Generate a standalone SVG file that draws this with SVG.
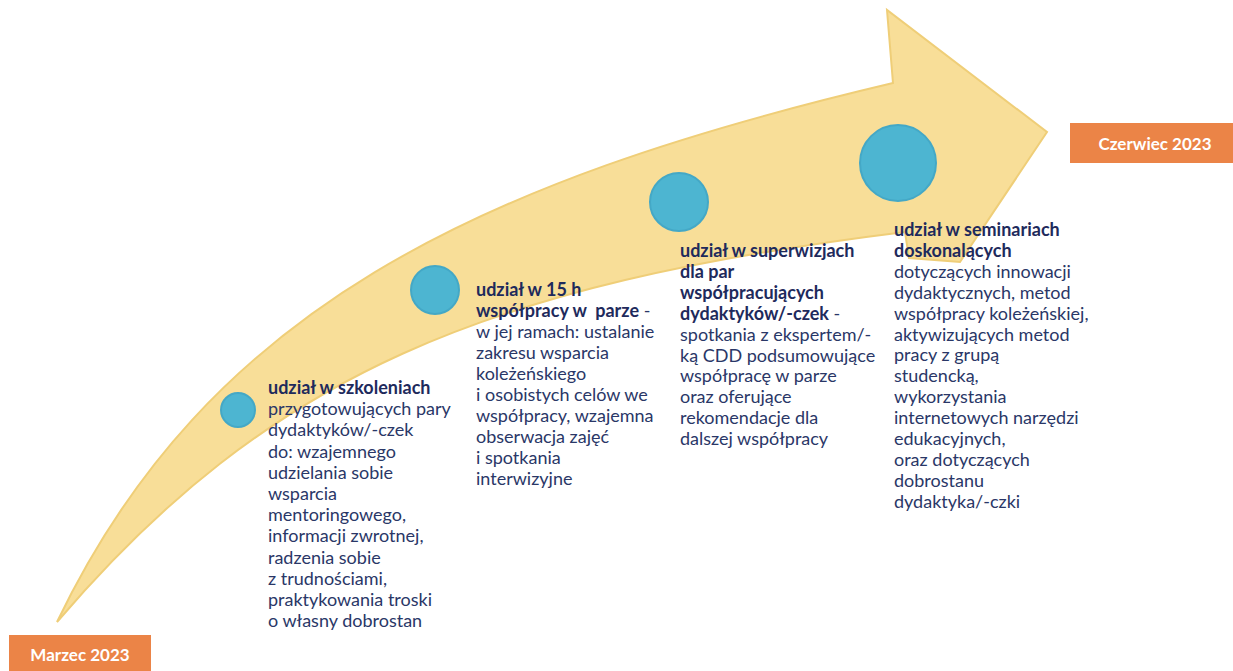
<svg xmlns="http://www.w3.org/2000/svg" width="1233" height="671" viewBox="0 0 1233 671">
<style>
.arrow{fill:#F8DE98;stroke:#EFCE78;stroke-width:2;stroke-linejoin:miter}
.dot{fill:#4DB5D1;stroke:#44A8C6;stroke-width:2}
.box{fill:#EB8447}
.boxt{font-family:Lato,"Open Sans",sans-serif;font-weight:bold;font-size:17px;fill:#FFFFFF;text-anchor:middle}
.t{font-family:Lato,"Liberation Sans",sans-serif;font-size:18px;fill:#2A3767}
.b{font-weight:bold;fill:#1E2A5C}
</style>
<rect width="1233" height="671" fill="#FFFFFF"/>
<g id="connectors">
<path class="arrow" d="M57,622 C207,310 474,182 893,83 L887,10 L1047,132 L960,262 L909,258 L905,232 C485,284 269,374 57,622 Z"/>
</g>
<g id="start">
<rect class="box" x="9" y="635" width="142" height="36"/>
<text class="boxt" x="80" y="661">Marzec 2023</text>
</g>
<g id="end">
<rect class="box" x="1070" y="123" width="163" height="40"/>
<text class="boxt" x="1155" y="150">Czerwiec 2023</text>
</g>
<g id="step1">
<circle class="dot" cx="238" cy="410" r="17"/>
<text class="t" x="268" y="394"><tspan class="b">udział w szkoleniach</tspan><tspan x="268" dy="21.2">przygotowujących pary</tspan><tspan x="268" dy="21.2">dydaktyków/-czek</tspan><tspan x="268" dy="21.2">do: wzajemnego</tspan><tspan x="268" dy="21.2">udzielania sobie</tspan><tspan x="268" dy="21.2">wsparcia</tspan><tspan x="268" dy="21.2">mentoringowego,</tspan><tspan x="268" dy="21.2">informacji zwrotnej,</tspan><tspan x="268" dy="21.2">radzenia sobie</tspan><tspan x="268" dy="21.2">z trudnościami,</tspan><tspan x="268" dy="21.2">praktykowania troski</tspan><tspan x="268" dy="21.2">o własny dobrostan</tspan></text>
</g>
<g id="step2">
<circle class="dot" cx="435" cy="290" r="24"/>
<text class="t" x="476" y="296"><tspan class="b">udział w 15 h</tspan><tspan x="476" dy="21" class="b" xml:space="preserve">współpracy w  parze</tspan><tspan> -</tspan><tspan x="476" dy="21">w jej ramach: ustalanie</tspan><tspan x="476" dy="21">zakresu wsparcia</tspan><tspan x="476" dy="21">koleżeńskiego</tspan><tspan x="476" dy="21">i osobistych celów we</tspan><tspan x="476" dy="21">współpracy, wzajemna</tspan><tspan x="476" dy="21">obserwacja zajęć</tspan><tspan x="476" dy="21">i spotkania</tspan><tspan x="476" dy="21">interwizyjne</tspan></text>
</g>
<g id="step3">
<circle class="dot" cx="679" cy="202" r="29"/>
<text class="t" x="680" y="257"><tspan class="b">udział w superwizjach</tspan><tspan x="680" dy="20.9" class="b">dla par</tspan><tspan x="680" dy="20.9" class="b">współpracujących</tspan><tspan x="680" dy="20.9" class="b">dydaktyków/-czek</tspan><tspan> -</tspan><tspan x="680" dy="20.9">spotkania z ekspertem/-</tspan><tspan x="680" dy="20.9">ką CDD podsumowujące</tspan><tspan x="680" dy="20.9">współpracę w parze</tspan><tspan x="680" dy="20.9">oraz oferujące</tspan><tspan x="680" dy="20.9">rekomendacje dla</tspan><tspan x="680" dy="20.9">dalszej współpracy</tspan></text>
</g>
<g id="step4">
<circle class="dot" cx="898" cy="163" r="38"/>
<text class="t" x="894" y="236"><tspan class="b">udział w seminariach</tspan><tspan x="894" dy="20.9" class="b">doskonalących</tspan><tspan x="894" dy="20.9">dotyczących innowacji</tspan><tspan x="894" dy="20.9">dydaktycznych, metod</tspan><tspan x="894" dy="20.9">współpracy koleżeńskiej,</tspan><tspan x="894" dy="20.9">aktywizujących metod</tspan><tspan x="894" dy="20.9">pracy z grupą</tspan><tspan x="894" dy="20.9">studencką,</tspan><tspan x="894" dy="20.9">wykorzystania</tspan><tspan x="894" dy="20.9">internetowych narzędzi</tspan><tspan x="894" dy="20.9">edukacyjnych,</tspan><tspan x="894" dy="20.9">oraz dotyczących</tspan><tspan x="894" dy="20.9">dobrostanu</tspan><tspan x="894" dy="20.9">dydaktyka/-czki</tspan></text>
</g>
</svg>
